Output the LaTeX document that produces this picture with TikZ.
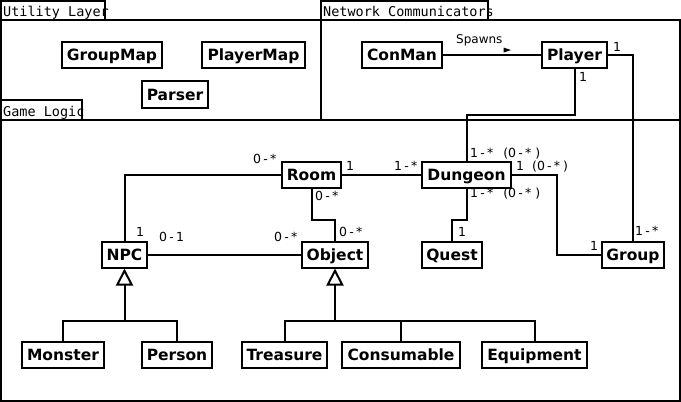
\documentclass[tikz,border=0pt]{standalone}
\usepackage{fontspec}
\setmainfont{DejaVu Sans}
\newfontfamily\tabfont{DejaVu Sans Mono}
\usetikzlibrary{arrows.meta}
\newcommand\mh{\hspace{2.2pt}-\hspace{2.2pt}}
\begin{document}
\begin{tikzpicture}[x=1pt,y=-1pt,
  cls/.style={draw, line width=2pt, inner sep=0pt, minimum height=26pt, text height=11.4pt, text depth=0pt, font=\fontsize{15.5}{18}\selectfont\bfseries},
  frame/.style={draw, line width=2pt},
  tabtext/.style={anchor=base west, inner sep=0pt, font=\fontsize{13.5}{15}\selectfont\tabfont},
  mult/.style={anchor=base west, inner sep=0pt, font=\fontsize{12.5}{14}\selectfont},
  conn/.style={line width=2pt},
  inh/.style={line width=2pt, -{Triangle[open, length=17pt, width=17pt]}}
]
\useasboundingbox (0,0) rectangle (681,402);
% frames
\draw[frame] (1,1) rectangle (105,20);
\draw[frame] (1,20) rectangle (321,120);
\draw[frame] (321,1) rectangle (488,20);
\draw[frame] (321,20) rectangle (680,120);
\draw[frame] (1,100) rectangle (82,120);
\draw[frame] (1,120) rectangle (680,401);
\node[tabtext] (tUtil) at (3,16) {Utility Layer};
\node[tabtext] (tNet) at (323,16) {Network Communicators};
\node[tabtext] (tGame) at (3,116) {Game Logic};
% classes
\node[cls, minimum width=100pt] (GroupMap) at (112,55) {GroupMap};
\node[cls, minimum width=103pt] (PlayerMap) at (253.5,55) {PlayerMap};
\node[cls, minimum width=66pt, minimum height=27pt] (Parser) at (175,94.5) {Parser};
\node[cls, minimum width=80pt] (ConMan) at (402,55) {ConMan};
\node[cls, minimum width=65pt] (Player) at (574.5,55) {Player};
\node[cls, minimum width=59pt] (Room) at (311.5,174.5) {Room};
\node[cls, minimum width=89pt] (Dungeon) at (466.5,174.5) {Dungeon};
\node[cls, minimum width=45pt] (NPC) at (124.5,254.5) {NPC};
\node[cls, minimum width=66pt] (Object) at (335,254.5) {Object};
\node[cls, minimum width=60pt] (Quest) at (452,254.5) {Quest};
\node[cls, minimum width=62pt] (Group) at (633,254.5) {Group};
\node[cls, minimum width=82pt] (Monster) at (63,354.5) {Monster};
\node[cls, minimum width=70pt] (Person) at (177,354.5) {Person};
\node[cls, minimum width=85pt] (Treasure) at (284.5,354.5) {Treasure};
\node[cls, minimum width=118pt] (Consumable) at (401,354.5) {Consumable};
\node[cls, minimum width=105pt] (Equipment) at (534.5,354.5) {Equipment};
% junctions
\coordinate (jPD) at (466.5,115);
\coordinate (jRO) at (335,220);
\coordinate (jDQ) at (452,220);
\coordinate (jDG) at (556.5,254.5);
\coordinate (jN) at (124.5,321);
\coordinate (jO) at (335,321);
% connectors
\draw[conn] (ConMan.east) -- (Player.west);
\node[anchor=base west, inner sep=0pt, font=\fontsize{12}{14}\selectfont] (spawns) at (456,43) {Spawns};
\fill (503.5,47.5) -- (511,50) -- (503.5,52.5) -- cycle;
\draw[conn] (Player.south) |- (jPD) -- (Dungeon.north);
\draw[conn] (Player.east) -| (Group.north);
\draw[conn] (Room.east) -- (Dungeon.west);
\draw[conn] (Room.west) -| (NPC.north);
\draw[conn] (Room.south) |- (jRO) -- (Object.north);
\draw[conn] (NPC.east) -- (Object.west);
\draw[conn] (Dungeon.south) |- (jDQ) -- (Quest.north);
\draw[conn] (Dungeon.east) -| (jDG) -- (Group.west);
\draw[conn] (Monster.north) |- (jN) -| (Person.north);
\draw[inh] (jN) -- (NPC.south);
\draw[conn] (Treasure.north) |- (jO) -| (Equipment.north);
\draw[conn] (Consumable.north) -- (Consumable.north |- jO);
\draw[inh] (jO) -- (Object.south);
% multiplicities
\node[mult] (m1) at (613,51) {1};
\node[mult] (m2) at (579,81) {1};
\node[mult] (m3) at (470,157) {1\mh*\hspace{10pt}(0\mh*\hspace{4pt})};
\node[mult] (m4) at (516,170) {1\hspace{8pt}(0\mh*\hspace{3pt})};
\node[mult] (m5) at (470,197) {1\mh*\hspace{10pt}(0\mh*\hspace{4pt})};
\node[mult] (m6) at (346,170.5) {1};
\node[mult] (m7) at (394,170) {1\mh*};
\node[mult] (m8) at (253,163) {0\mh*};
\node[mult] (m9) at (315,200) {0\mh*};
\node[mult] (m10) at (339,236.5) {0\mh*};
\node[mult] (m11) at (274,241.5) {0\mh*};
\node[mult] (m12) at (136,236.5) {1};
\node[mult] (m13) at (159,241.5) {0\mh1};
\node[mult] (m14) at (458,236) {1};
\node[mult] (m15) at (590,250) {1};
\node[mult] (m16) at (635,235) {1\mh*};
\end{tikzpicture}
\end{document}
